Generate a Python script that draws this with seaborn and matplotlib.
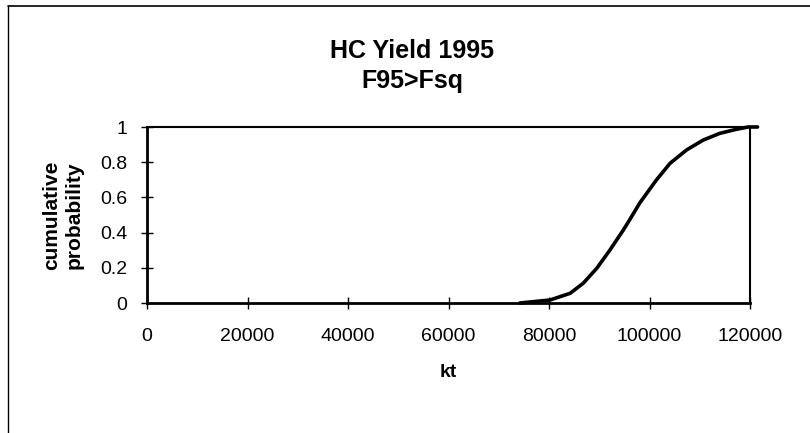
import matplotlib
matplotlib.use("Agg")
import matplotlib.pyplot as plt
import seaborn as sns
import pandas as pd
from matplotlib.lines import Line2D

# Data
kt = [74200, 80200, 84200, 86800, 89500, 92100, 94800, 96100, 98100,
      101400, 104100, 107400, 110700, 114000, 117300, 119650, 121500]
cum_prob = [0.0, 0.017, 0.055, 0.112, 0.197, 0.30, 0.415, 0.475, 0.57,
            0.70, 0.794, 0.87, 0.926, 0.964, 0.987, 1.0, 1.0]
x_ticks = [0, 20000, 40000, 60000, 80000, 100000, 120000]
y_ticks = [0, 0.2, 0.4, 0.6, 0.8, 1]
y_tick_labels = ["0", "0.2", "0.4", "0.6", "0.8", "1"]

sns.set_theme(style="white")
plt.rcParams["font.family"] = ["Liberation Sans", "DejaVu Sans"]
plt.rcParams["text.color"] = "black"
plt.rcParams["axes.labelcolor"] = "black"

fig = plt.figure(figsize=(8.10, 4.33), dpi=100)
ax = fig.add_axes([147 / 810, 1 - 303 / 433, (750 - 147) / 810, (303 - 127) / 433])

df = pd.DataFrame({"kt": kt, "p": cum_prob})
sns.lineplot(data=df, x="kt", y="p", ax=ax, color="black", linewidth=2.6,
             estimator=None, sort=True, clip_on=False, zorder=5,
             solid_joinstyle="round", solid_capstyle="round")

ax.set_xlim(0, 120000)
ax.set_ylim(0, 1)
ax.set_xticks(x_ticks)
ax.set_xticklabels([str(t) for t in x_ticks])
ax.set_yticks(y_ticks)
ax.set_yticklabels(y_tick_labels)

ax.tick_params(axis="both", direction="inout", length=8, width=1, color="black",
               labelsize=14, labelcolor="black", left=True, bottom=True)
ax.tick_params(axis="x", pad=14)
ax.tick_params(axis="y", pad=10)

for side in ["left", "bottom"]:
    ax.spines[side].set_linewidth(2.0)
    ax.spines[side].set_color("black")
for side in ["top", "right"]:
    ax.spines[side].set_linewidth(1.5)
    ax.spines[side].set_color("black")
    ax.spines[side].set_visible(True)

ax.set_xlabel("kt", fontsize=14, fontweight="bold", labelpad=14)
ax.set_ylabel("cumulative\nprobability", fontsize=15, fontweight="bold",
              labelpad=12, linespacing=1.25)

fig.text(412 / 810, 1 - 51 / 433, "HC Yield 1995", ha="center", va="center",
         fontsize=18, fontweight="bold", color="black")
fig.text(412 / 810, 1 - 81 / 433, "F95>Fsq", ha="center", va="center",
         fontsize=18, fontweight="bold", color="black")

# outer chart border (top and left visible in reference)
fig.add_artist(Line2D([8 / 810, 1.0], [1 - 6 / 433, 1 - 6 / 433],
                      transform=fig.transFigure, color="black", linewidth=1.2))
fig.add_artist(Line2D([8 / 810, 8 / 810], [0, 1 - 6 / 433],
                      transform=fig.transFigure, color="black", linewidth=1.0))

fig.savefig("out.png", dpi=100)
